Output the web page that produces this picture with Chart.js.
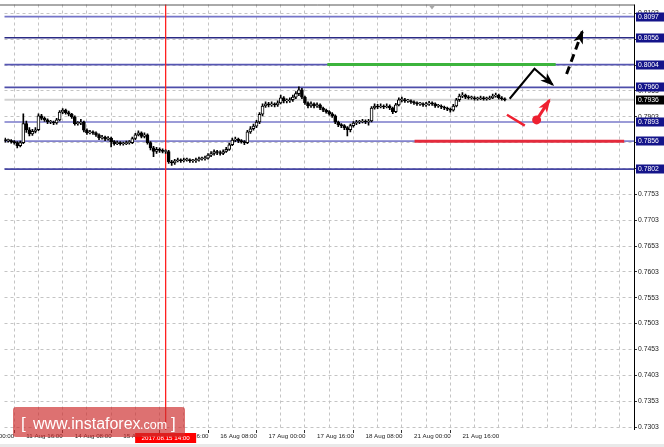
<!DOCTYPE html>
<html><head><meta charset="utf-8">
<script src="https://cdn.jsdelivr.net/npm/chart.js@4.4.0/dist/chart.umd.min.js"></script>
<style>html,body{margin:0;padding:0;background:#fff;overflow:hidden}</style>
</head><body>
<canvas id="c" width="664" height="447"></canvas>
<script>
// ---- DATA ----
const firstBar = 9; // bar index of first candle (hourly bars, weekends skipped)
const opens = [
.7859,.7857,.7857,.7855,.7853,.7847,.7853,.7890,.7878,.7870,
.7875,.7878,.7905,.7900,.7897,.7893,.7893,.7891,.7897,.7912,
.7916,.7911,.7908,.7903,.7890,.7891,.7893,.7877,.7872,.7874,
.7872,.7868,.7862,.7864,.7860,.7862,.7855,.7851,.7853,.7851,
.7851,.7853,.7853,.7861,.7868,.7872,.7865,.7868,.7853,.7843,
.7836,.7840,.7838,.7836,.7836,.7816,.7814,.7818,.7820,.7818,
.7820,.7820,.7818,.7818,.7820,.7822,.7822,.7823,.7829,.7832,
.7836,.7834,.7832,.7836,.7840,.7849,.7858,.7860,.7857,.7855,
.7853,.7874,.7880,.7885,.7893,.7908,.7924,.7928,.7926,.7928,
.7926,.7930,.7940,.7934,.7934,.7936,.7941,.7948,.7955,.7941,
.7930,.7924,.7928,.7924,.7926,.7920,.7916,.7913,.7909,.7905,
.7893,.7888,.7886,.7882,.7878,.7886,.7891,.7893,.7893,.7895,
.7893,.7895,.7920,.7924,.7922,.7924,.7922,.7924,.7920,.7913,
.7926,.7936,.7936,.7934,.7934,.7932,.7930,.7928,.7928,.7926,
.7928,.7930,.7928,.7924,.7924,.7922,.7920,.7918,.7916,.7924,
.7936,.7943,.7945,.7941,.7940,.7940,.7938,.7938,.7940,.7938,
.7938,.7940,.7943,.7945,.7940,.7938];
const highs = [
.7862,.7860,.7859,.7857,.7855,.7856,.7909,.7895,.7882,.7879,
.7882,.7909,.7908,.7903,.7899,.7896,.7895,.7900,.7915,.7919,
.7918,.7914,.7910,.7905,.7894,.7898,.7895,.7880,.7877,.7876,
.7874,.7870,.7867,.7866,.7865,.7864,.7857,.7856,.7855,.7854,
.7856,.7857,.7864,.7871,.7876,.7874,.7872,.7870,.7855,.7846,
.7844,.7843,.7841,.7839,.7838,.7819,.7821,.7823,.7822,.7823,
.7823,.7822,.7821,.7823,.7825,.7825,.7827,.7832,.7836,.7839,
.7838,.7837,.7839,.7844,.7852,.7862,.7864,.7862,.7859,.7857,
.7877,.7884,.7889,.7896,.7911,.7928,.7932,.7931,.7932,.7930,
.7934,.7945,.7942,.7938,.7940,.7945,.7952,.7961,.7958,.7943,
.7932,.7932,.7930,.7930,.7928,.7922,.7918,.7915,.7911,.7907,
.7895,.7890,.7888,.7884,.7889,.7894,.7896,.7896,.7898,.7897,
.7898,.7923,.7928,.7927,.7928,.7926,.7928,.7926,.7922,.7929,
.7940,.7941,.7939,.7937,.7936,.7934,.7932,.7931,.7930,.7931,
.7933,.7932,.7930,.7927,.7926,.7924,.7922,.7920,.7927,.7939,
.7947,.7950,.7947,.7944,.7943,.7942,.7941,.7943,.7942,.7941,
.7943,.7947,.7949,.7947,.7942,.7940];
const lows = [
.7854,.7854,.7852,.7850,.7843,.7845,.7851,.7873,.7866,.7867,
.7872,.7876,.7897,.7894,.7890,.7890,.7888,.7889,.7895,.7909,
.7908,.7905,.7900,.7887,.7887,.7888,.7874,.7869,.7870,.7869,
.7865,.7859,.7860,.7857,.7858,.7845,.7848,.7849,.7848,.7848,
.7849,.7850,.7851,.7859,.7866,.7862,.7862,.7850,.7839,.7826,
.7832,.7834,.7833,.7832,.7813,.7809,.7811,.7816,.7815,.7816,
.7817,.7815,.7815,.7815,.7817,.7819,.7819,.7821,.7826,.7829,
.7830,.7829,.7830,.7834,.7838,.7847,.7855,.7853,.7852,.7849,
.7851,.7871,.7877,.7882,.7890,.7905,.7921,.7922,.7923,.7922,
.7923,.7928,.7930,.7930,.7931,.7933,.7938,.7944,.7938,.7927,
.7920,.7921,.7920,.7921,.7917,.7913,.7910,.7906,.7902,.7890,
.7884,.7882,.7878,.7866,.7874,.7883,.7888,.7890,.7891,.7890,
.7887,.7893,.7918,.7919,.7920,.7919,.7920,.7917,.7909,.7911,
.7924,.7932,.7931,.7931,.7929,.7927,.7925,.7925,.7923,.7923,
.7925,.7925,.7921,.7921,.7919,.7917,.7915,.7912,.7914,.7922,
.7933,.7940,.7938,.7937,.7937,.7935,.7935,.7936,.7935,.7935,
.7936,.7938,.7941,.7937,.7935,.7934];
const closes = [
.7857,.7857,.7855,.7853,.7847,.7853,.7890,.7878,.7870,.7875,
.7878,.7905,.7900,.7897,.7893,.7893,.7891,.7897,.7912,.7916,
.7911,.7908,.7903,.7890,.7891,.7893,.7877,.7872,.7874,.7872,
.7868,.7862,.7864,.7860,.7862,.7855,.7851,.7853,.7851,.7851,
.7853,.7853,.7861,.7868,.7872,.7865,.7868,.7853,.7843,.7836,
.7840,.7838,.7836,.7836,.7816,.7814,.7818,.7820,.7818,.7820,
.7820,.7818,.7818,.7820,.7822,.7822,.7823,.7829,.7832,.7836,
.7834,.7832,.7836,.7840,.7849,.7858,.7860,.7857,.7855,.7853,
.7874,.7880,.7885,.7893,.7908,.7924,.7928,.7926,.7928,.7926,
.7930,.7940,.7934,.7934,.7936,.7941,.7948,.7955,.7941,.7930,
.7924,.7928,.7924,.7926,.7920,.7916,.7913,.7909,.7905,.7893,
.7888,.7886,.7882,.7878,.7886,.7891,.7893,.7893,.7895,.7893,
.7895,.7920,.7924,.7922,.7924,.7922,.7924,.7920,.7913,.7926,
.7936,.7936,.7934,.7934,.7932,.7930,.7928,.7928,.7926,.7928,
.7930,.7928,.7924,.7924,.7922,.7920,.7918,.7916,.7924,.7936,
.7943,.7945,.7941,.7940,.7940,.7938,.7938,.7940,.7938,.7938,
.7940,.7943,.7945,.7940,.7938,.7936];

const timeTickBars = [0,16,32,48,64,80,96,112,128,144,160];
const timeTickLabels = ["11 Aug 00:00","11 Aug 16:00","14 Aug 08:00","15 Aug 00:00","15 Aug 16:00",
  "16 Aug 08:00","17 Aug 00:00","17 Aug 16:00","18 Aug 08:00","21 Aug 00:00","21 Aug 16:00"];
const priceTicks = [0.7303,0.7353,0.7403,0.7453,0.7503,0.7553,0.7603,0.7653,0.7703,0.7753,
  0.7803,0.7853,0.7903,0.7953,0.8003,0.8053,0.8103];
const levels = [0.8097,0.8056,0.8004,0.7960,0.7893,0.7856,0.7802];
const bidPrice = 0.7936;
const markerBar = 62, markerLabel = "2017.08.15 14:00";
const greenZone = {bars:[115.4,190.8], price:0.8004};
const redZone = {bars:[144.2,213.4], price:0.7856};
const blackArrowBars = [175.6,183.8,189.8], blackArrowPrices = [0.7938,0.7996,0.7965];
const dashArrowBars = [194.4,199.6], dashArrowPrices = [0.7986,0.8068];
const redStrokeBars = [174.7,180.6], redStrokePrices = [0.7907,0.7886];
const redArrowBars = [184.5,188.7], redArrowPrices = [0.7897,0.7935];

// ---- STYLE / LAYOUT ----
const X_MIN = 8.787, X_MAX = 216.66, Y_MIN = 0.72972, Y_MAX = 0.81203;
const levelColors = ['#7474c8','#2a2a84','#5656b2','#4e4eaa','#7a7aca','#8282cc','#4646a4'];
const FONT = "'Liberation Sans', Arial, sans-serif";

const pts = (xs, ys) => xs.map((x,i)=>({x, y: ys[i]}));
const bars = closes.map((c,i)=>firstBar+i);

const datasets = [];
// candle bodies
datasets.push({type:'bar', order:1, grouped:false, barThickness:3, minBarLength:1,
  data: bars.map((b,i)=>({x:b, y:[opens[i], closes[i]]})),
  backgroundColor: closes.map((c,i)=> c>=opens[i] ? '#ffffff' : '#000000'),
  borderColor:'#000', borderWidth:1, borderSkipped:false});
// wicks
datasets.push({type:'bar', order:2, grouped:false, barThickness:1,
  data: bars.map((b,i)=>({x:b, y:[lows[i], highs[i]]})),
  backgroundColor:'#000', borderWidth:0});
// bid line
datasets.push({type:'line', order:8, data: pts([0,240],[bidPrice,bidPrice]),
  borderColor:'#d2d2d2', borderWidth:2, pointRadius:0});
// horizontal levels
levels.forEach((v,i)=>datasets.push({type:'line', order:6, data: pts([0,240],[v,v]),
  borderColor: levelColors[i], borderWidth:1.7, pointRadius:0}));
// marker vertical
datasets.push({type:'line', order:5, data: pts([markerBar,markerBar],[0.70,0.83]),
  borderColor:'#ff2020', borderWidth:1.3, pointRadius:0});
// zones
datasets.push({type:'line', order:4, data: pts(greenZone.bars,[greenZone.price,greenZone.price]),
  borderColor:'#3cb43c', borderWidth:3, pointRadius:0});
datasets.push({type:'line', order:4, data: pts(redZone.bars,[redZone.price,redZone.price]),
  borderColor:'#e42a3c', borderWidth:3, pointRadius:0});
// arrows
datasets.push({type:'line', order:0, data: pts(blackArrowBars,blackArrowPrices), arrowHead:{len:12,w:10,color:'#000'},
  borderColor:'#000', borderWidth:2, pointRadius:0});
datasets.push({type:'line', order:0, data: pts(dashArrowBars,dashArrowPrices), arrowHead:{len:12,w:10,color:'#000'},
  borderColor:'#000', borderWidth:3, borderDash:[8,5], pointRadius:0});
datasets.push({type:'line', order:0, data: pts(redStrokeBars,redStrokePrices),
  borderColor:'#ee2030', borderWidth:2.5, pointRadius:0});
datasets.push({type:'line', order:0, data: pts(redArrowBars,redArrowPrices), arrowHead:{len:12,w:10,color:'#ee2030'},
  borderColor:'#ee2030', borderWidth:3, pointRadius:[4.5,0], pointBackgroundColor:'#ee2030', pointBorderWidth:0});

const overlay = {
  id:'overlay',
  afterDatasetsDraw(chart){
    const ctx = chart.ctx;
    chart.data.datasets.forEach((ds,i)=>{
      if(!ds.arrowHead) return;
      const m = chart.getDatasetMeta(i).data; const n = m.length;
      const a = m[n-2], b = m[n-1];
      const ang = Math.atan2(b.y-a.y, b.x-a.x);
      const {len,w,color} = ds.arrowHead;
      ctx.save(); ctx.translate(b.x,b.y); ctx.rotate(ang);
      ctx.fillStyle=color; ctx.beginPath(); ctx.moveTo(2,0); ctx.lineTo(-len,-w/2); ctx.lineTo(-len*0.7,0); ctx.lineTo(-len,w/2); ctx.closePath(); ctx.fill();
      ctx.restore();
    });
  },
  afterDraw(chart){
    const ctx = chart.ctx, ca = chart.chartArea, xs = chart.scales.x, ys = chart.scales.y;
    ctx.save();
    // frame
    ctx.strokeStyle='#555'; ctx.lineWidth=1;
    ctx.beginPath(); ctx.moveTo(0,ca.top+0.5); ctx.lineTo(ca.right+0.5,ca.top+0.5); ctx.stroke();
    ctx.strokeStyle='#000';
    ctx.beginPath(); ctx.moveTo(ca.right+0.5,ca.top); ctx.lineTo(ca.right+0.5,ca.bottom); ctx.stroke();
    // top shift marker
    ctx.fillStyle='#a8a8a8'; ctx.beginPath(); ctx.moveTo(429,ca.top+1); ctx.lineTo(435,ca.top+1); ctx.lineTo(432,ca.top+5); ctx.closePath(); ctx.fill();
    // level price boxes
    ctx.font = '6.8px '+FONT; ctx.textBaseline='middle'; ctx.textAlign='left';
    const box = (v, bg) => { const y = ys.getPixelForValue(v);
      ctx.fillStyle=bg; ctx.fillRect(ca.right+2, Math.round(y)-4.5, 664-ca.right-2, 9);
      ctx.fillStyle='#fff'; ctx.fillText(v.toFixed(4), ca.right+4, Math.round(y)); };
    levels.forEach(v=>box(v,'#14148a'));
    box(bidPrice,'#000');
    // out-of-range time labels
    ctx.font='6.2px '+FONT; ctx.fillStyle='#222'; ctx.textBaseline='top';
    timeTickBars.forEach((b,i)=>{ if(b<X_MIN){ ctx.fillText(timeTickLabels[i], xs.getPixelForValue(b), ca.bottom+3); }});
    // marker time box
    const mx = xs.getPixelForValue(markerBar);
    ctx.fillStyle='#ff0000'; ctx.fillRect(mx-30.5, ca.bottom+3, 61, 10);
    ctx.fillStyle='#fff'; ctx.textAlign='center'; ctx.textBaseline='middle';
    ctx.fillText(markerLabel, mx, ca.bottom+8.3);
    // watermark
    ctx.fillStyle='rgba(205,45,45,0.68)';
    ctx.beginPath(); ctx.roundRect(13,407,172,30,3); ctx.fill();
    ctx.fillStyle='#fff'; ctx.textAlign='left'; ctx.textBaseline='alphabetic';
    ctx.font='17px '+FONT; ctx.fillText('[', 21, 429);
    ctx.font='16px '+FONT; ctx.fillText('www.instaforex', 33, 429);
    ctx.font='12.5px '+FONT; ctx.fillText('.com', 140, 429);
    ctx.font='17px '+FONT; ctx.fillText(']', 171, 429);
    // bottom band
    ctx.fillStyle='#e9e9e9'; ctx.fillRect(0,444,664,3);
    ctx.restore();
  }
};

new Chart(document.getElementById('c'), {
  type:'bar',
  data:{datasets},
  options:{
    responsive:false, animation:false, devicePixelRatio:1,
    layout:{padding:{top:2,left:0,right:0,bottom:0}},
    plugins:{legend:{display:false}, tooltip:{enabled:false}},
    scales:{
      x:{type:'linear', min:X_MIN, max:X_MAX, offset:false,
        afterBuildTicks(s){ const t=[]; for(let v=16; v<=216; v+=8) t.push({value:v}); s.ticks=t; },
        afterFit(s){ s.height = 17; s.paddingLeft = 0; s.paddingRight = 0; },
        grid:{color:'#c4c4c4', lineWidth:1, tickLength:3, drawTicks:true,
          tickColor:(c)=> (c.tick && c.tick.value%16===0 && c.tick.value<=160) ? '#333' : 'rgba(0,0,0,0)', tickBorderDash:[]},
        border:{display:false, dash:[3,3]},
        ticks:{autoSkip:false, maxRotation:0, align:'start', padding:0, color:'#222', font:{size:6.2, family:FONT},
          callback:(v)=>{ const k = timeTickBars.indexOf(v); return k>=0 ? timeTickLabels[k] : ''; }}
      },
      y:{type:'linear', position:'right', min:Y_MIN, max:Y_MAX,
        afterBuildTicks(s){ s.ticks = priceTicks.map(v=>({value:v})); },
        afterFit(s){ s.width = 30; s.paddingTop = 0; s.paddingBottom = 0; },
        grid:{color:'#c4c4c4', lineWidth:1, tickLength:3, tickColor:'#333', tickBorderDash:[]},
        border:{display:false, dash:[3,3]},
        ticks:{padding:1, color:'#222', font:{size:6.8, family:FONT}, callback:(v)=>Number(v).toFixed(4)}
      }
    }
  },
  plugins:[overlay]
});
</script>
</body></html>
